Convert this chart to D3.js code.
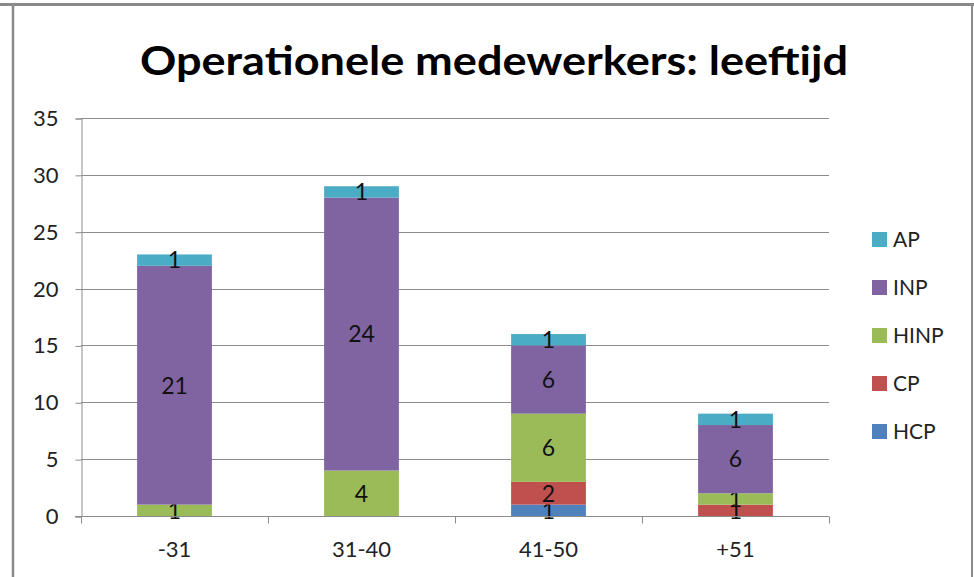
<!DOCTYPE html>
<html>
<head>
<meta charset="utf-8">
<script src="https://cdn.jsdelivr.net/npm/d3@7"></script>
<style>
  body { margin: 0; background: #fff; }
  svg { display: block; }
  text { font-family: Lato, "Open Sans", sans-serif; }
</style>
</head>
<body>
<div id="container"></div>
<script>
const WIDTH = 974;
const HEIGHT = 577;
const PLOT = { LEFT: 81, RIGHT: 829, TOP: 118, BOTTOM: 516 };

const TITLE = 'Operationele medewerkers: leeftijd';
const categories = ['-31', '31-40', '41-50', '+51'];
const seriesNames = ['HCP', 'CP', 'HINP', 'INP', 'AP'];
const HCP  = [0, 0, 1, 0];
const CP   = [0, 0, 2, 1];
const HINP = [1, 4, 6, 1];
const INP  = [21, 24, 6, 6];
const AP   = [1, 1, 1, 1];
const yTicks = [0, 5, 10, 15, 20, 25, 30, 35];

const colors = {
  HCP: '#4F81BD',
  CP: '#C0504D',
  HINP: '#9BBB59',
  INP: '#8064A2',
  AP: '#4BACC6'
};

const table = categories.map((c, i) => ({
  cat: c, HCP: HCP[i], CP: CP[i], HINP: HINP[i], INP: INP[i], AP: AP[i]
}));

const svg = d3.select('#container')
              .append('svg')
                .attr('width', WIDTH)
                .attr('height', HEIGHT);

// outer frame
svg.append('line')
   .attr('x1', 0).attr('x2', WIDTH).attr('y1', 4.5).attr('y2', 4.5)
   .attr('stroke', '#8a8a8a').attr('stroke-width', 3);
svg.append('line')
   .attr('x1', 13).attr('x2', 13).attr('y1', 3).attr('y2', HEIGHT)
   .attr('stroke', '#8a8a8a').attr('stroke-width', 2.5);
svg.append('line')
   .attr('x1', 972).attr('x2', 972).attr('y1', 3).attr('y2', HEIGHT)
   .attr('stroke', '#8a8a8a').attr('stroke-width', 2);

svg.append('text')
   .attr('x', 494)
   .attr('y', 75)
   .attr('text-anchor', 'middle')
   .attr('font-size', 41)
   .attr('font-weight', 'bold')
   .attr('textLength', 708)
   .attr('lengthAdjust', 'spacingAndGlyphs')
   .attr('fill', '#000')
   .text(TITLE);

const xscale = d3.scaleBand().domain(categories).range([PLOT.LEFT, PLOT.RIGHT]);
const yscale = d3.scaleLinear().domain([0, 35]).range([PLOT.BOTTOM, PLOT.TOP]);

// gridlines
svg.append('g')
   .selectAll('line')
   .data(yTicks.filter(t => t > 0))
   .join('line')
     .attr('x1', PLOT.LEFT).attr('x2', PLOT.RIGHT)
     .attr('y1', d => Math.round(yscale(d)) + 0.5)
     .attr('y2', d => Math.round(yscale(d)) + 0.5)
     .attr('stroke', '#8c8c8c');

const yAxis = svg.append('g')
   .attr('transform', `translate(${PLOT.LEFT + 0.5}, 0.5)`)
   .call(d3.axisLeft(yscale).tickValues(yTicks).tickSize(6).tickPadding(17));
yAxis.select('.domain').attr('stroke', '#8c8c8c');
yAxis.selectAll('.tick line').attr('stroke', '#8c8c8c');
yAxis.selectAll('.tick text')
     .attr('font-size', 22).attr('font-family', 'Lato, sans-serif').attr('fill', '#222');

const stack = d3.stack().keys(seriesNames);
const layers = stack(table);

const barW = xscale.bandwidth() * 0.4;

const groups = svg.append('g')
   .selectAll('g')
   .data(layers)
   .join('g')
     .attr('fill', d => colors[d.key]);

groups.selectAll('rect')
   .data(d => d.filter(p => p[1] - p[0] > 0))
   .join('rect')
     .attr('x', d => xscale(d.data.cat) + (xscale.bandwidth() - barW) / 2)
     .attr('y', d => yscale(d[1]))
     .attr('width', barW)
     .attr('height', d => yscale(d[0]) - yscale(d[1]));

// x axis drawn over bars
const xAxis = svg.append('g')
   .attr('transform', `translate(0, ${PLOT.BOTTOM + 0.5})`);
xAxis.append('line')
   .attr('x1', PLOT.LEFT - 6).attr('x2', PLOT.RIGHT)
   .attr('stroke', '#8c8c8c');
xAxis.selectAll('.tk')
   .data(d3.range(categories.length + 1))
   .join('line')
     .attr('class', 'tk')
     .attr('x1', i => Math.round(PLOT.LEFT + i * xscale.step()) + 0.5)
     .attr('x2', i => Math.round(PLOT.LEFT + i * xscale.step()) + 0.5)
     .attr('y1', 0).attr('y2', 7)
     .attr('stroke', '#8c8c8c');
xAxis.selectAll('.cl')
   .data(categories)
   .join('text')
     .attr('class', 'cl')
     .attr('x', d => xscale(d) + xscale.bandwidth() / 2)
     .attr('y', 40)
     .attr('text-anchor', 'middle')
     .attr('font-size', 22)
     .attr('fill', '#222')
     .text(d => d);

// data labels
groups.selectAll('text')
   .data(d => d.filter(p => p[1] - p[0] > 0).map(p => ({ p, key: d.key })))
   .join('text')
     .attr('x', d => xscale(d.p.data.cat) + xscale.bandwidth() / 2)
     .attr('y', d => (yscale(d.p[0]) + yscale(d.p[1])) / 2)
     .attr('dy', '0.36em')
     .attr('text-anchor', 'middle')
     .attr('font-size', 23)
     .attr('fill', '#111')
     .text(d => d.p[1] - d.p[0]);

// legend
const legend = svg.append('g')
   .selectAll('g')
   .data(seriesNames.slice().reverse())
   .join('g')
     .attr('transform', (d, i) => `translate(872, ${239 + i * 48})`);
legend.append('rect')
   .attr('x', 0).attr('y', -7)
   .attr('width', 15).attr('height', 15)
   .attr('fill', d => colors[d]);
legend.append('text')
   .attr('x', 21)
   .attr('y', 0)
   .attr('dy', '0.36em')
   .attr('font-size', 21)
   .attr('fill', '#222')
   .text(d => d);
</script>
</body>
</html>
